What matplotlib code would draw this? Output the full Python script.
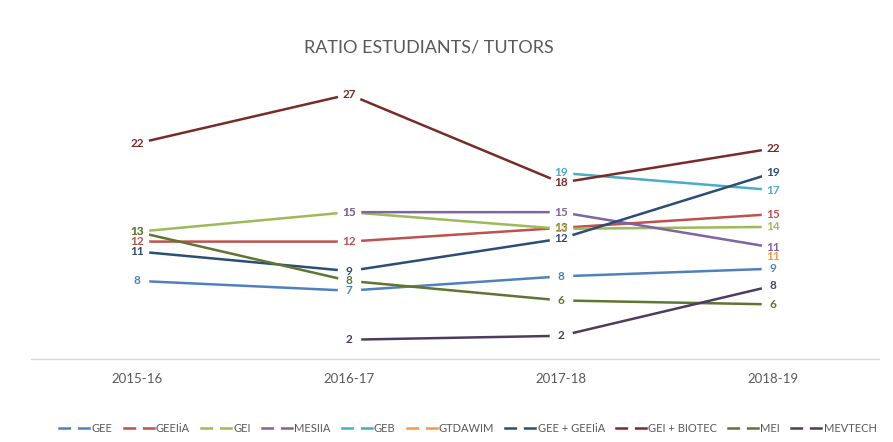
import numpy as np
import matplotlib
matplotlib.use("Agg")
import matplotlib.pyplot as plt
from matplotlib.lines import Line2D

plt.rcParams['font.family'] = ['Lato', 'DejaVu Sans']

# Course years and ratios (None = no value that year); labels show rounded values
years = ['2015-16', '2016-17', '2017-18', '2018-19']
series = ['GEE', 'GEEIiA', 'GEI', 'MESIIA', 'GEB', 'GTDAWIM',
          'GEE + GEEIiA', 'GEI + BIOTEC', 'MEI', 'MEVTECH']
gee = [8, 7, 8.46, 9.24]
geeiia = [12, 12, 13.4, 14.8]
gei = [13, 15, 13.3, 13.5]
mesiia = [None, 15, 15, 11.4]
geb = [None, None, 19, 17.25]
gtdawim = [None, None, None, 10.5]
gee_geeiia = [11, 9, 12.3, 19]
gei_biotec = [22, 27, 18, 21.5]
mei = [13, 8, 6, 5.6]
mevtech = [None, 2, 2.4, 7.5]
values = [gee, geeiia, gei, mesiia, geb, gtdawim, gee_geeiia, gei_biotec, mei, mevtech]

colors = ['#4F81BD', '#C0504D', '#9BBB59', '#8064A2', '#4BACC6', '#F79646',
          '#2C4D75', '#772C2A', '#5F7530', '#4D3B62']

fig = plt.figure(figsize=(8.93, 4.42), dpi=100)
ax = fig.add_axes([0.0347, 0.187, 0.9496, 0.666])

x = np.arange(len(years))
for i, (name, vals, c) in enumerate(zip(series, values, colors)):
    xs = [xi for xi, v in zip(x, vals) if v is not None]
    ys = [v for v in vals if v is not None]
    # big white markers leave a gap round each label, like the Excel original
    ax.plot(xs, ys, color=c, lw=1.8, zorder=2, solid_capstyle='butt',
            marker='o', ms=17, mfc='white', mec='none')
    for xi, v in zip(xs, ys):
        ax.text(xi, v, str(int(np.floor(v + 0.5))), ha='center', va='center',
                fontsize=8.5, fontweight='bold', color=c, zorder=3)

ax.set_xlim(-0.5, len(years) - 0.5)
ax.set_ylim(0, 30)
ax.set_xticks(x)
ax.set_xticklabels(years, fontsize=9.5, color='#595959')
ax.tick_params(axis='x', length=0, pad=10)
ax.set_yticks([])
for s in ['top', 'right', 'left']:
    ax.spines[s].set_visible(False)
ax.spines['bottom'].set_color('#D9D9D9')
ax.spines['bottom'].set_linewidth(1)

fig.text(0.48, 0.893, 'RATIO ESTUDIANTS/ TUTORS', ha='center', va='center',
         fontsize=13, color='#595959')

handles = [Line2D([], [], color=c, lw=1.8, marker='o', ms=5, mfc='white', mec='none')
           for c in colors]
fig.legend(handles, series, loc='center', bbox_to_anchor=(0.524, 0.03), ncol=10,
           frameon=False, fontsize=8, labelcolor='#595959', handlelength=2.7,
           handletextpad=0.2, columnspacing=1.0, numpoints=1)

fig.savefig('out.png', dpi=100)
